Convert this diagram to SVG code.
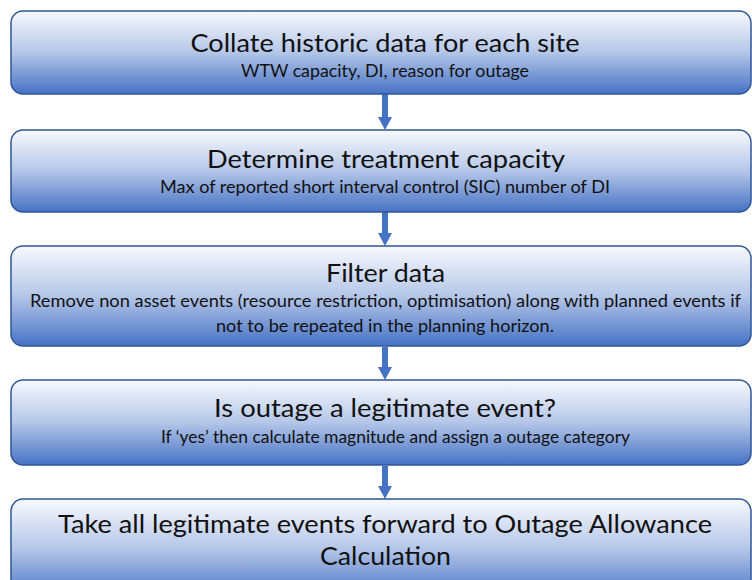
<svg xmlns="http://www.w3.org/2000/svg" width="752" height="580" viewBox="0 0 752 580">
<defs>
<linearGradient id="g" x1="0" y1="0" x2="0" y2="1">
<stop offset="0" stop-color="#f8f9fd"/>
<stop offset="0.5" stop-color="#b4c6e8"/>
<stop offset="1" stop-color="#4672c4"/>
</linearGradient>
</defs>
<style>
.box{fill:url(#g);stroke:#2f5597;stroke-width:1.5}
.t{font-family:Lato,"Open Sans",sans-serif;font-size:25px;fill:#111;text-anchor:middle}
.s{font-family:Lato,"Open Sans",sans-serif;font-size:16.5px;fill:#111;text-anchor:middle}
.c{stroke:#4472c4;stroke-width:6;fill:none}
.h{fill:#4472c4}
</style>
<rect width="752" height="580" fill="#fff"/>
<g id="connectors">
<path class="c" d="M385,94 V118"/>
<path class="h" d="M378,117 L392,117 L385,130 Z"/>
<path class="c" d="M385,212 V234"/>
<path class="h" d="M378,233 L392,233 L385,246 Z"/>
<path class="c" d="M385,347 V368"/>
<path class="h" d="M378,367 L392,367 L385,380 Z"/>
<path class="c" d="M385,466 V487"/>
<path class="h" d="M378,486 L392,486 L385,499 Z"/>
</g>
<g id="n1">
<rect class="box" x="11" y="11" width="740" height="83" rx="12"/>
<text class="t" x="385" y="52" textLength="389" lengthAdjust="spacingAndGlyphs">Collate historic data for each site</text>
<text class="s" x="385" y="77" textLength="288" lengthAdjust="spacingAndGlyphs">WTW capacity, DI, reason for outage</text>
</g>
<g id="n2">
<rect class="box" x="11" y="130" width="740" height="82" rx="12"/>
<text class="t" x="386" y="168" textLength="358" lengthAdjust="spacingAndGlyphs">Determine treatment capacity</text>
<text class="s" x="385" y="193" textLength="450" lengthAdjust="spacingAndGlyphs">Max of reported short interval control (SIC) number of DI</text>
</g>
<g id="n3">
<rect class="box" x="11" y="246" width="740" height="100" rx="12"/>
<text class="t" x="385.5" y="282" textLength="119" lengthAdjust="spacingAndGlyphs">Filter data</text>
<text class="s" x="385.5" y="307" textLength="711" lengthAdjust="spacingAndGlyphs">Remove non asset events (resource restriction, optimisation) along with planned events if</text>
<text class="s" x="385" y="332" textLength="338" lengthAdjust="spacingAndGlyphs">not to be repeated in the planning horizon.</text>
</g>
<g id="n4">
<rect class="box" x="11" y="380" width="740" height="85" rx="12"/>
<text class="t" x="385" y="417" textLength="342" lengthAdjust="spacingAndGlyphs">Is outage a legitimate event?</text>
<text class="s" x="395.5" y="443" textLength="469" lengthAdjust="spacingAndGlyphs">If ‘yes’ then calculate magnitude and assign a outage category</text>
</g>
<g id="n5">
<rect class="box" x="11" y="499" width="740" height="100" rx="12"/>
<text class="t" x="385" y="533" textLength="654" lengthAdjust="spacingAndGlyphs">Take all legitimate events forward to Outage Allowance</text>
<text class="t" x="385.5" y="565" textLength="131" lengthAdjust="spacingAndGlyphs">Calculation</text>
</g>
</svg>
